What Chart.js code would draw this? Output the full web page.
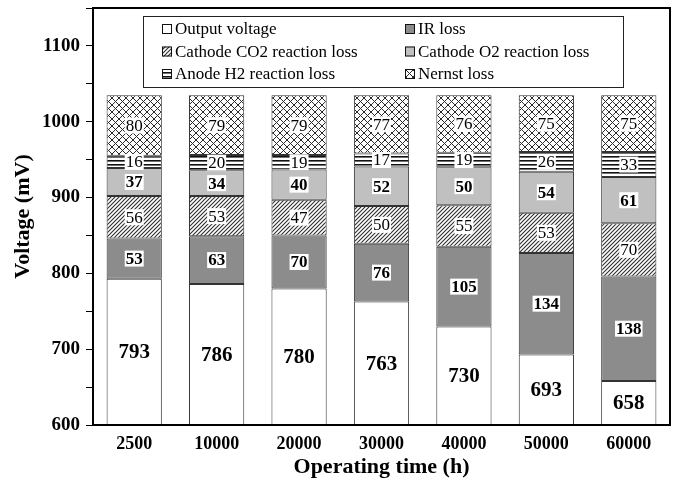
<!DOCTYPE html>
<html>
<head>
<meta charset="utf-8">
<script src="https://cdn.jsdelivr.net/npm/chart.js@4.4.1/dist/chart.umd.min.js"></script>
<style>
  html, body { margin: 0; padding: 0; background: #fff; }
  #c { display: block; }
</style>
</head>
<body>
<canvas id="c" width="675" height="485"></canvas>
<script>
// Voltage breakdown of the cell over operating time (mV)
const categories = ['2500', '10000', '20000', '30000', '40000', '50000', '60000'];
const outputVoltage  = [793, 786, 780, 763, 730, 693, 658];
const irLoss         = [53, 63, 70, 76, 105, 134, 138];
const cathodeCO2Loss = [56, 53, 47, 50, 55, 53, 70];
const cathodeO2Loss  = [37, 34, 40, 52, 50, 54, 61];
const anodeH2Loss    = [16, 20, 19, 17, 19, 26, 33];
const nernstLoss     = [80, 79, 79, 77, 76, 75, 75];
const seriesLabels = [
  'Output voltage', 'IR loss', 'Cathode CO2 reaction loss',
  'Cathode O2 reaction loss', 'Anode H2 reaction loss', 'Nernst loss'
];
const yMin = 600, yMax = 1150, yStep = 50;

const SERIF = '"Liberation Serif", "Times New Roman", serif';
const INK = '#333';

// --- fill patterns ---------------------------------------------------------
function makeTile(size, draw) {
  const t = document.createElement('canvas');
  t.width = size; t.height = size;
  const g = t.getContext('2d');
  g.fillStyle = '#fff';
  g.fillRect(0, 0, size, size);
  draw(g, size);
  return document.getElementById('c').getContext('2d').createPattern(t, 'repeat');
}
const diagonalHatch = makeTile(4, (g, s) => {
  g.strokeStyle = '#2e2e2e'; g.lineWidth = 1.1;
  g.beginPath();
  g.moveTo(-1, s + 1); g.lineTo(s + 1, -1);
  g.moveTo(-1, 1); g.lineTo(1, -1);
  g.moveTo(s - 1, s + 1); g.lineTo(s + 1, s - 1);
  g.stroke();
});
const horizontalLines = makeTile(4, (g, s) => {
  g.fillStyle = '#111';
  g.fillRect(0, 0, s, 1.6);
});
const crossHatch = makeTile(7, (g, s) => {
  g.strokeStyle = '#2a2a2a'; g.lineWidth = 1;
  g.beginPath();
  g.moveTo(0, 0); g.lineTo(s, s);
  g.moveTo(0, s); g.lineTo(s, 0);
  g.stroke();
});

const fills = ['#ffffff', '#8c8c8c', diagonalHatch, '#c0c0c0', horizontalLines, crossHatch];
const values = [outputVoltage, irLoss, cathodeCO2Loss, cathodeO2Loss, anodeH2Loss, nernstLoss];
const labelFonts = [
  'bold 21px ' + SERIF, 'bold 17px ' + SERIF, '17px ' + SERIF,
  'bold 17px ' + SERIF, '17px ' + SERIF, '17px ' + SERIF
];

const datasets = values.map((data, i) => ({
  label: seriesLabels[i],
  data: data,
  backgroundColor: fills[i],
  borderColor: INK,
  borderWidth: 1,
  borderSkipped: false,
  barPercentage: 0.67,
  categoryPercentage: 1.0
}));

// --- plugins ---------------------------------------------------------------
// value boxes centred on the visible part of every segment
const segmentLabels = {
  id: 'segmentLabels',
  afterDatasetsDraw(chart) {
    const { ctx, chartArea } = chart;
    ctx.save();
    chart.data.datasets.forEach((ds, di) => {
      const meta = chart.getDatasetMeta(di);
      ctx.font = labelFonts[di];
      const size = parseInt(labelFonts[di].match(/(\d+)px/)[1], 10);
      meta.data.forEach((el, i) => {
        const top = Math.max(el.y, chartArea.top);
        const bottom = Math.min(el.base, chartArea.bottom);
        const cy = (top + bottom) / 2;
        const text = String(ds.data[i]);
        const w = ctx.measureText(text).width;
        ctx.fillStyle = '#fff';
        ctx.fillRect(el.x - w / 2 - 1, cy - size * 0.47, w + 2, size * 0.94);
        ctx.fillStyle = '#000';
        ctx.textAlign = 'center';
        ctx.textBaseline = 'middle';
        ctx.fillText(text, el.x, cy + 1);
      });
    });
    ctx.restore();
  }
};

// closed frame round the plot area
const plotFrame = {
  id: 'plotFrame',
  afterDraw(chart) {
    const { ctx, chartArea: a } = chart;
    ctx.save();
    ctx.strokeStyle = '#000';
    ctx.lineWidth = 2;
    ctx.strokeRect(a.left, a.top, a.right - a.left, a.bottom - a.top);
    ctx.restore();
  }
};

// boxed two-column key inside the plot area
const keyBox = {
  id: 'keyBox',
  afterDraw(chart) {
    const { ctx, chartArea: a } = chart;
    const left = a.left + 50, top = a.top + 8, width = 480, height = 71;
    ctx.save();
    ctx.fillStyle = '#fff';
    ctx.fillRect(left, top, width, height);
    ctx.strokeStyle = '#222';
    ctx.lineWidth = 1;
    ctx.strokeRect(left + 0.5, top + 0.5, width, height);
    ctx.font = '17px ' + SERIF;
    ctx.textBaseline = 'middle';
    ctx.textAlign = 'left';
    const cols = [19, 262];
    const rows = [13, 35.5, 58];
    chart.data.datasets.forEach((ds, i) => {
      const bx = left + cols[i % 2];
      const by = top + rows[Math.floor(i / 2)];
      ctx.fillStyle = ds.backgroundColor;
      ctx.fillRect(bx, by - 5, 10, 10);
      ctx.strokeStyle = '#111';
      ctx.strokeRect(bx + 0.5, by - 4.5, 9, 9);
      ctx.fillStyle = '#000';
      ctx.fillText(ds.label, bx + 13, by + 1);
    });
    ctx.restore();
  }
};

new Chart(document.getElementById('c'), {
  type: 'bar',
  data: { labels: categories, datasets: datasets },
  plugins: [segmentLabels, plotFrame, keyBox],
  options: {
    responsive: false,
    devicePixelRatio: 1,
    animation: false,
    layout: { padding: { left: 0, top: 8, right: 5, bottom: 0 } },
    plugins: { legend: { display: false }, tooltip: { enabled: false } },
    scales: {
      x: {
        stacked: true,
        grid: { display: false, drawTicks: false, tickLength: 0 },
        border: { display: true, color: '#000', width: 2 },
        ticks: { color: '#000', font: { family: SERIF, size: 18, weight: 'bold' }, padding: 9 },
        title: {
          display: true, text: 'Operating time (h)', color: '#000',
          font: { family: SERIF, size: 22, weight: 'bold' },
          padding: { top: 0, bottom: 4 }
        },
        afterFit(scale) { scale.height = 60; }
      },
      y: {
        stacked: true,
        min: yMin, max: yMax,
        grid: { display: true, drawOnChartArea: false, drawTicks: true, tickLength: 7, color: '#000', lineWidth: 1 },
        border: { display: true, color: '#000', width: 2 },
        ticks: {
          stepSize: yStep, autoSkip: false, padding: 6, color: '#000',
          font: { family: SERIF, size: 19, weight: 'bold' },
          callback: v => (v % 100 === 0 && v < yMax ? String(v) : '')
        },
        title: {
          display: true, text: 'Voltage (mV)', color: '#000',
          font: { family: SERIF, size: 22, weight: 'bold' },
          padding: { top: 10, bottom: 0 }
        },
        afterFit(scale) {
          scale.width = 93;
          scale.paddingTop = 0;
          scale.paddingBottom = 0;
        }
      }
    }
  }
});
</script>
</body>
</html>
